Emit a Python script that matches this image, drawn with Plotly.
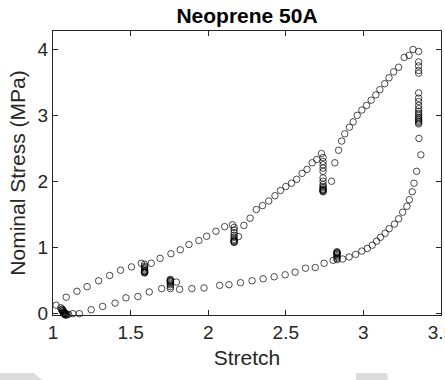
import plotly.graph_objects as go

# Loading path, holds, unloading path (stretch, nominal stress in MPa)
stretch = [
    0.99, 1.02, 1.085, 1.154, 1.22, 1.294, 1.365, 1.435, 1.506, 1.569,
    1.59, 1.59, 1.59, 1.59, 1.59, 1.59, 1.59, 1.59, 1.59, 1.59,
    1.633, 1.69, 1.76, 1.82, 1.876, 1.94, 1.99, 2.05, 2.106, 2.156,
    2.167, 2.167, 2.167, 2.167, 2.167, 2.167, 2.167, 2.167, 2.167, 2.167,
    2.195, 2.23, 2.27, 2.31, 2.35, 2.39, 2.43, 2.466, 2.50, 2.537,
    2.57, 2.605, 2.637, 2.67, 2.70, 2.73,
    2.74, 2.74, 2.74, 2.74, 2.74, 2.74, 2.74, 2.74, 2.74, 2.74, 2.74, 2.74, 2.74, 2.74, 2.74,
    2.795, 2.816, 2.84, 2.86, 2.88, 2.91, 2.934, 2.96, 2.99, 3.02,
    3.05, 3.08, 3.106, 3.137, 3.165, 3.195, 3.227, 3.263, 3.294, 3.32,
    3.356, 3.356, 3.356, 3.356, 3.356, 3.356, 3.356, 3.356, 3.356, 3.356,
    3.356, 3.356, 3.356, 3.356, 3.356, 3.356, 3.356, 3.356, 3.356,
    3.358, 3.37, 3.343, 3.326, 3.315, 3.296, 3.28, 3.253, 3.227, 3.20,
    3.166, 3.14, 3.11, 3.085, 3.057, 3.025, 2.99, 2.95, 2.908, 2.866,
    2.83, 2.83, 2.83, 2.83, 2.83, 2.83, 2.83, 2.83, 2.83,
    2.805, 2.747, 2.69, 2.627, 2.56, 2.496, 2.425, 2.354, 2.283, 2.208,
    2.134, 2.074, 1.973, 1.895, 1.816, 1.795,
    1.756, 1.756, 1.756, 1.756, 1.756, 1.756, 1.756, 1.756, 1.756,
    1.70, 1.62, 1.547, 1.47, 1.40, 1.32, 1.246, 1.17, 1.128, 1.10,
    1.05, 1.055, 1.06, 1.065, 1.07, 1.07, 1.075, 1.08, 1.085, 1.09,
    1.06, 1.065, 1.07, 1.075, 1.08,
]
stress = [
    0.01, 0.12, 0.24, 0.33, 0.40, 0.49, 0.57, 0.65, 0.70, 0.755,
    0.74, 0.71, 0.69, 0.67, 0.65, 0.64, 0.63, 0.62, 0.615, 0.61,
    0.755, 0.83, 0.90, 0.96, 1.04, 1.10, 1.165, 1.24, 1.31, 1.34,
    1.30, 1.26, 1.22, 1.18, 1.15, 1.12, 1.10, 1.09, 1.08, 1.07,
    1.16, 1.33, 1.44, 1.57, 1.63, 1.70, 1.78, 1.86, 1.92, 1.97,
    2.03, 2.12, 2.18, 2.28, 2.33, 2.42,
    2.36, 2.30, 2.25, 2.20, 2.15, 2.05, 2.00, 1.95, 1.92, 1.90, 1.88, 1.87, 1.86, 1.85, 1.84,
    2.00, 2.28, 2.47, 2.61, 2.72, 2.82, 2.90, 3.00, 3.08, 3.15,
    3.23, 3.31, 3.39, 3.48, 3.57, 3.66, 3.73, 3.88, 3.91, 4.00,
    3.97, 3.81, 3.75, 3.68, 3.64, 3.34, 3.26, 3.21, 3.15, 3.10,
    3.06, 3.03, 3.00, 2.97, 2.95, 2.93, 2.91, 2.89, 2.87,
    2.65, 2.40, 2.15, 1.97, 1.84, 1.72, 1.62, 1.53, 1.43, 1.35,
    1.28, 1.21, 1.15, 1.09, 1.03, 0.98, 0.94, 0.89, 0.85, 0.82,
    0.81, 0.83, 0.85, 0.87, 0.89, 0.90, 0.91, 0.92, 0.93,
    0.80, 0.755, 0.69, 0.68, 0.62, 0.58, 0.55, 0.52, 0.49, 0.46,
    0.43, 0.42, 0.38, 0.37, 0.36, 0.47,
    0.37, 0.40, 0.43, 0.45, 0.47, 0.48, 0.49, 0.50, 0.51,
    0.37, 0.32, 0.25, 0.23, 0.15, 0.10, 0.05, -0.01, -0.01, -0.02,
    0.08, 0.05, 0.03, 0.01, 0.00, -0.01, -0.02, -0.03, -0.03, -0.02,
    0.06, 0.04, 0.02, 0.00, -0.01,
]

x_ticks = [1, 1.5, 2, 2.5, 3, 3.5]
x_tick_labels = ["1", "1.5", "2", "2.5", "3", "3.5"]
y_ticks = [0, 1, 2, 3, 4]
y_tick_labels = ["0", "1", "2", "3", "4"]

FONT = "Liberation Sans, Arial, Helvetica, sans-serif"
AX = "#262626"

fig = go.Figure()
fig.add_trace(go.Scatter(
    x=stretch, y=stress, mode="markers",
    marker=dict(symbol="circle-open", size=6.5, color="black",
                line=dict(width=0.7, color="black")),
    cliponaxis=False, showlegend=False,
))

axis_common = dict(
    showline=True, linecolor=AX, linewidth=1, mirror="ticks",
    ticks="inside", ticklen=5, tickwidth=1, tickcolor=AX,
    showgrid=False, zeroline=False, ticklabeloverflow="allow",
    automargin=False,
    tickfont=dict(family=FONT, size=19, color=AX),
)

fig.update_layout(
    width=445, height=380,
    margin=dict(l=53, r=4, t=31, b=65, autoexpand=False),
    paper_bgcolor="white", plot_bgcolor="white",
    title=dict(text="<b>Neoprene 50A</b>", x=0.5, xref="paper",
               y=1 - 16 / 380, yref="container", yanchor="middle",
               xanchor="center", automargin=False,
               font=dict(family=FONT, size=21, color="black")),
    xaxis=dict(range=[1, 3.5], tickvals=x_ticks, ticktext=x_tick_labels,
               title=dict(text="Stretch", standoff=8,
                          font=dict(family=FONT, size=21, color=AX)),
               **axis_common),
    yaxis=dict(range=[-0.03, 4.28], tickvals=y_ticks, ticktext=y_tick_labels,
               title=dict(text="Nominal Stress (MPa)", standoff=6,
                          font=dict(family=FONT, size=21, color=AX)),
               **axis_common),
    shapes=[
        dict(type="path", xref="paper", yref="paper",
             path="M -0.137,-0.204 L -0.049,-0.204 L -0.028,-0.229 L -0.137,-0.229 Z",
             fillcolor="#dcdcdc", line=dict(width=0), layer="below"),
        dict(type="path", xref="paper", yref="paper",
             path="M 0.781,-0.204 L 0.861,-0.204 L 0.863,-0.229 L 0.781,-0.229 Z",
             fillcolor="#dcdcdc", line=dict(width=0), layer="below"),
    ],
)

fig.write_html("out.html")
